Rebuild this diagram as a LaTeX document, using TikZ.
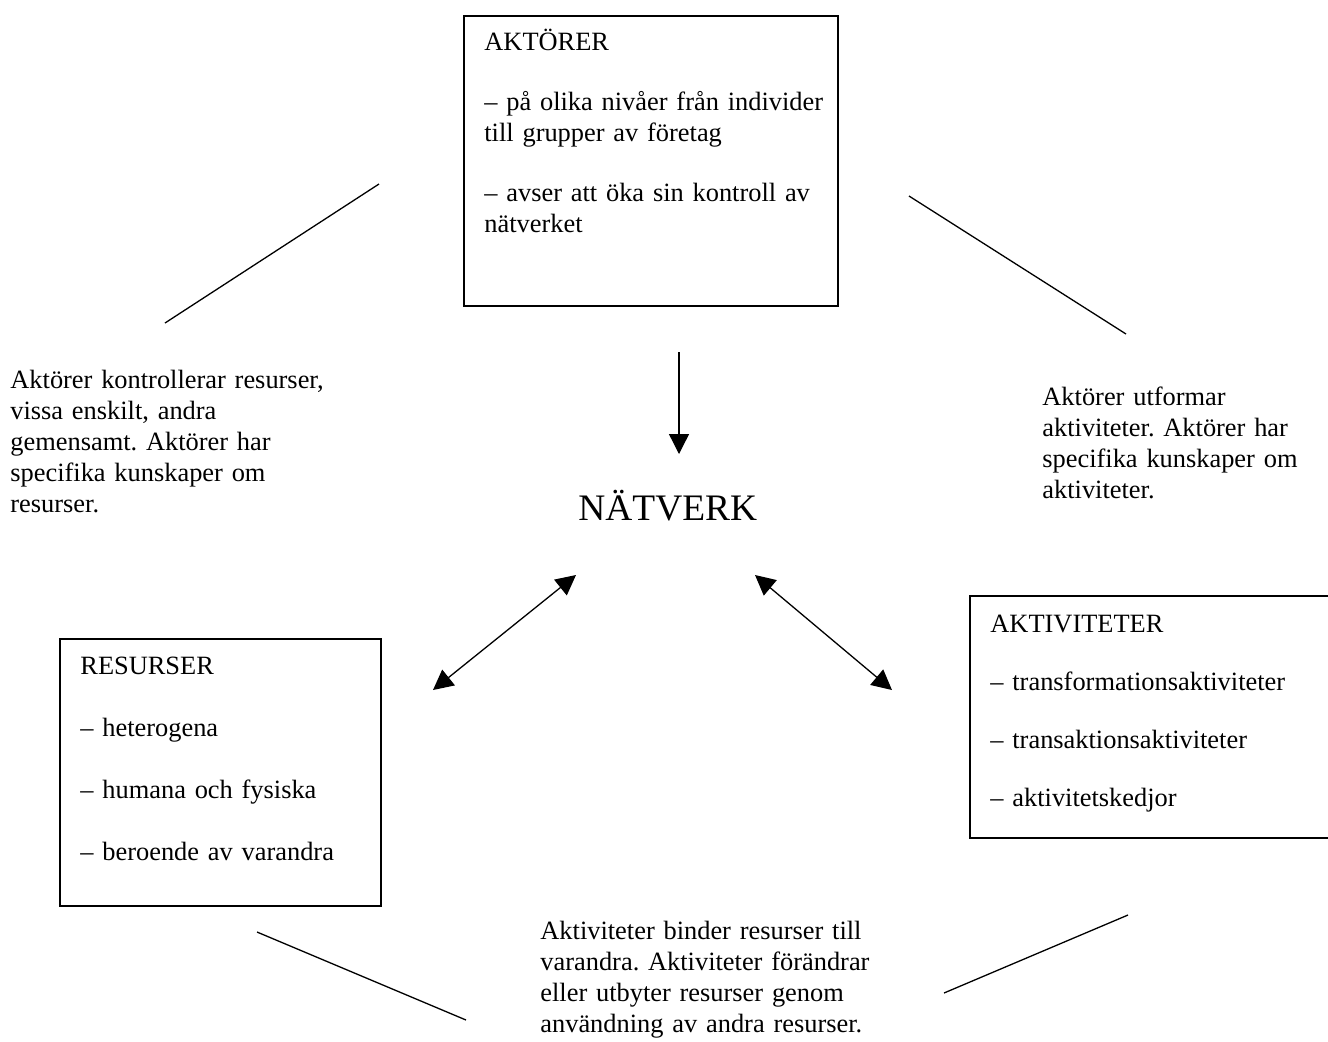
\documentclass[tikz,border=0pt]{standalone}
\usepackage{fontspec}
\setmainfont{Liberation Serif}
\usetikzlibrary{arrows.meta}
\frenchspacing
\begin{document}
\begin{tikzpicture}[x=0.5pt,y=-0.5pt,
  frame/.style={draw, line width=0.75pt, inner sep=0pt, anchor=north west},
  body/.style={anchor=base west, inner sep=0pt, align=left, text width=200pt,
    font=\fontsize{13.2}{15.6}\selectfont},
  heading/.style={anchor=base west, inner sep=0pt, font=\fontsize{18.7}{22}\selectfont},
  link/.style={line width=0.65pt},
  flow/.style={line width=0.65pt, -{Triangle[width=10pt,length=10pt]}},
  twoway/.style={line width=0.65pt,
    {Triangle[width=10pt,length=10pt]}-{Triangle[width=10pt,length=10pt]}}]
\useasboundingbox (0,0) rectangle (1328,1041);
\fill[white] (0,0) rectangle (1328,1041);
\clip (0,0) rectangle (1328,1041);

% --- the three boxes ---
\node[frame, minimum width=187pt, minimum height=145pt] (aktorer) at (463,15) {};
\node[body] (aktorerT) at (484,50)
  {AKTÖRER\\[14.4pt]– på olika nivåer från individer\\till grupper av företag\\[14.4pt]– avser att öka sin kontroll av\\nätverket};

\node[frame, minimum width=160.5pt, minimum height=133.5pt] (resurser) at (59,638) {};
\node[body] (resurserT) at (80,674)
  {RESURSER\\[15.4pt]– heterogena\\[15.4pt]– humana och fysiska\\[15.4pt]– beroende av varandra};

\node[frame, minimum width=183pt, minimum height=121pt] (aktiviteter) at (969,595) {};
\node[body] (aktiviteterT) at (990,632)
  {AKTIVITETER\\[13.4pt]– transformationsaktiviteter\\[13.4pt]– transaktionsaktiviteter\\[13.4pt]– aktivitetskedjor};

% --- centre ---
\node[heading] (natverk) at (578,520) {NÄTVERK};

% --- relation texts ---
\node[body] (ktrl) at (10,388)
  {Aktörer kontrollerar resurser,\\vissa enskilt, andra\\gemensamt. Aktörer har\\specifika kunskaper om\\resurser.};
\node[body] (utf) at (1042,405)
  {Aktörer utformar\\aktiviteter. Aktörer har\\specifika kunskaper om\\aktiviteter.};
\node[body] (bind) at (540,939)
  {Aktiviteter binder resurser till\\varandra. Aktiviteter förändrar\\eller utbyter resurser genom\\användning av andra resurser.};

% --- arrows ---
\coordinate (downA) at (679,352);
\coordinate (downB) at (679,454);
\draw[flow] (downA) -- (downB);

\coordinate (leftA) at (433,690);
\coordinate (leftB) at (576,575);
\draw[twoway] (leftA) -- (leftB);

\coordinate (rightA) at (755,575);
\coordinate (rightB) at (892,690);
\draw[twoway] (rightA) -- (rightB);

% --- plain connector strokes ---
\coordinate (tlA) at (379,184);
\coordinate (tlB) at (165,323);
\draw[link] (tlA) -- (tlB);

\coordinate (trA) at (909,196);
\coordinate (trB) at (1126,334);
\draw[link] (trA) -- (trB);

\coordinate (blA) at (257,932);
\coordinate (blB) at (466,1020);
\draw[link] (blA) -- (blB);

\coordinate (brA) at (944,993);
\coordinate (brB) at (1128,915);
\draw[link] (brA) -- (brB);
\end{tikzpicture}
\end{document}
